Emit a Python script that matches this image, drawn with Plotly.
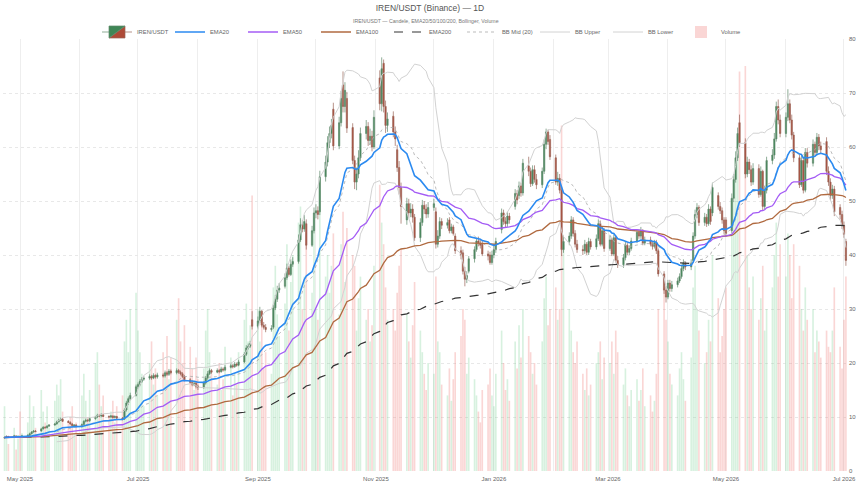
import pandas as pd
import plotly.graph_objects as go

# ---- Daily OHLCV (business days from 2025-04-23), one line per month ----
open_ = [
    6.1, 6.2, 6.4, 6.3, 6.5, 6.3,
    6.4, 6.3, 6.5, 6.6, 6.9, 7.2, 7.4, 7.4, 7.8, 8.1, 8.0, 8.3, 8.5, 8.7, 9.1, 9.4, 9.6, 9.2, 9.0, 8.7, 8.4, 8.5,
    8.2, 8.6, 9.2, 9.4, 9.3, 9.7, 10.0, 10.3, 10.2, 10.4, 10.1, 10.0, 10.2, 9.9, 10.1, 9.8, 9.6, 11.3, 12.6, 13.4, 14.0,
    15.6, 16.0, 16.6, 17.0, 17.2, 17.5, 17.2, 17.7, 17.4, 17.8, 17.6, 18.2, 17.9, 18.5, 18.2, 18.6, 18.3, 18.0, 17.5, 16.9, 16.4, 16.0, 16.3,
    15.7, 15.5, 16.3, 17.2, 18.0, 18.6, 18.3, 18.6, 18.4, 18.9, 18.7, 19.2, 19.5, 19.3, 19.8, 19.6, 20.2, 21.6, 22.8, 23.1, 28.0,
    26.8, 27.8, 29.6, 27.0, 26.6, 26.2, 26.6, 30.2, 31.8, 33.5, 34.2, 35.8, 37.6, 36.4, 38.3, 38.8, 42.8, 45.6, 44.8, 45.8, 41.8, 44.5,
    47.8, 48.2, 48.0, 54.5, 57.2, 60.8, 62.5, 67.0, 60.2, 64.5, 71.5, 67.5, 69.0, 63.6, 57.5, 53.5, 55.0, 58.0, 62.5, 63.8, 61.2, 62.0, 60.0,
    72.8, 68.0, 75.5, 67.5, 64.0, 65.7, 62.8, 59.5, 56.2, 52.5, 46.5, 49.5, 47.8, 48.5, 47.0, 43.2, 46.0, 49.2, 48.5, 47.6,
    48.8, 48.0, 42.0, 43.5, 46.2, 45.5, 46.5, 44.5, 45.2, 43.5, 40.8, 40.4, 37.0, 35.5, 37.0, 39.3, 41.0, 42.6, 42.2, 42.0, 40.2, 40.0, 38.6,
    40.0, 41.0, 44.7, 47.8, 46.2, 45.8, 47.2, 49.0, 51.4, 51.0, 52.8, 51.5, 56.5, 55.5, 53.2, 55.8, 54.0, 53.0, 55.5, 60.5, 62.8, 61.4,
    58.0, 53.5, 54.2, 52.0, 41.0, 42.5, 43.5, 46.5, 44.0, 42.0, 41.0, 40.8, 42.0, 40.5, 42.5, 41.5, 43.0, 45.8, 42.0, 44.5,
    41.2, 42.8, 40.2, 43.2, 39.0, 38.2, 39.5, 41.8, 40.5, 41.2, 42.6, 44.2, 43.5, 44.5, 42.2, 42.8, 42.0, 41.6, 42.3, 40.8, 36.5, 33.5,
    32.2, 34.8, 33.8, 34.5, 35.2, 36.0, 37.5, 38.5, 37.8, 39.0, 43.5, 47.5, 48.8, 46.0, 47.0, 45.8, 48.5, 47.8, 51.0, 49.0, 48.2, 46.5,
    46.5, 44.5, 50.5, 54.0, 58.0, 64.5, 60.8, 55.0, 57.2, 55.8, 53.5, 56.0, 51.2, 55.5, 49.0, 52.0, 57.5, 58.5, 61.5, 67.5, 65.0,
    62.5, 65.5, 68.0, 65.0, 62.2, 58.0, 53.0, 57.5, 52.0, 59.0, 57.0, 60.5, 59.0, 61.8, 60.2, 61.0, 55.5, 53.5, 51.0, 52.2, 48.8, 47.5, 45.5, 42.5,
]
high = [
    6.4, 6.6, 6.5, 6.7, 6.6, 6.6,
    6.5, 6.7, 6.8, 7.1, 7.4, 7.6, 7.6, 8.0, 8.3, 8.3, 8.5, 8.7, 8.9, 9.3, 9.7, 9.9, 9.8, 9.4, 9.2, 8.9, 8.7, 8.7,
    8.8, 9.4, 9.7, 9.6, 9.9, 10.2, 10.6, 10.5, 10.7, 10.5, 10.3, 10.4, 10.3, 10.3, 10.2, 10.0, 11.6, 13.0, 13.8, 14.5, 16.0,
    16.4, 17.0, 17.4, 17.6, 17.9, 17.8, 18.1, 17.9, 18.2, 18.1, 18.6, 18.5, 18.9, 18.8, 19.0, 18.9, 18.6, 18.3, 17.8, 17.2, 16.8, 16.7, 16.6,
    16.0, 16.6, 17.6, 18.5, 19.0, 18.9, 19.0, 18.9, 19.3, 19.2, 19.6, 19.9, 19.8, 20.2, 20.1, 20.6, 22.0, 23.3, 23.6, 24.1, 29.6,
    28.6, 30.4, 29.8, 27.6, 27.2, 27.0, 30.8, 32.6, 34.3, 34.8, 36.6, 38.4, 38.0, 39.2, 39.6, 43.8, 46.8, 46.4, 47.4, 46.6, 45.4, 48.8,
    49.4, 49.0, 55.6, 58.4, 62.0, 63.8, 65.2, 68.2, 65.6, 70.4, 74.0, 72.0, 70.2, 64.4, 58.4, 56.2, 59.4, 63.6, 65.0, 64.6, 63.4, 63.0, 66.8,
    74.2, 76.6, 76.2, 68.6, 66.4, 66.6, 63.8, 60.4, 57.4, 53.4, 50.6, 50.4, 49.6, 49.4, 47.6, 46.8, 50.2, 50.0, 49.4, 49.8,
    50.4, 48.8, 44.6, 47.0, 46.8, 46.8, 47.0, 45.8, 45.6, 44.0, 41.6, 41.0, 37.8, 37.0, 39.8, 41.6, 43.2, 43.4, 42.8, 42.6, 40.8, 40.6, 40.8,
    41.8, 43.2, 48.6, 48.4, 47.0, 48.0, 47.8, 52.2, 52.0, 53.6, 53.4, 57.8, 58.2, 56.2, 56.6, 56.6, 55.0, 56.2, 61.4, 63.4, 63.2, 62.2,
    58.6, 55.4, 55.0, 52.6, 43.6, 44.2, 47.2, 47.0, 44.6, 42.8, 41.8, 42.8, 42.4, 43.2, 43.0, 43.8, 46.6, 46.4, 45.2, 45.0,
    43.6, 43.2, 43.8, 43.6, 39.8, 40.2, 42.4, 42.2, 41.8, 43.2, 44.8, 44.8, 45.2, 44.8, 43.4, 43.4, 42.6, 42.8, 42.8, 41.2, 37.0, 34.2,
    35.4, 35.4, 35.2, 35.8, 36.6, 38.2, 39.2, 38.8, 39.2, 44.2, 48.4, 49.6, 49.2, 47.8, 47.6, 49.4, 49.0, 53.4, 51.6, 49.8, 48.8, 47.0,
    47.0, 51.4, 55.0, 59.2, 63.6, 66.0, 61.6, 58.2, 57.8, 56.6, 57.0, 56.8, 56.4, 55.8, 52.8, 58.2, 59.6, 62.6, 68.4, 68.8, 66.0,
    66.4, 70.7, 68.8, 66.0, 62.8, 58.6, 58.4, 58.0, 59.8, 59.8, 61.4, 61.0, 62.6, 62.4, 61.0, 61.8, 56.4, 54.2, 53.0, 52.8, 49.4, 48.2, 46.2, 43.0,
]
low = [
    6.0, 6.1, 6.2, 6.2, 6.2, 6.2,
    6.2, 6.2, 6.4, 6.5, 6.8, 7.1, 7.2, 7.3, 7.7, 7.9, 7.9, 8.2, 8.4, 8.6, 9.0, 9.3, 9.1, 8.9, 8.6, 8.3, 8.3, 8.1,
    8.1, 8.4, 9.0, 9.1, 9.1, 9.5, 9.8, 10.0, 10.0, 10.0, 9.8, 9.8, 9.7, 9.7, 9.6, 9.4, 9.5, 11.0, 12.2, 13.1, 13.8,
    15.2, 15.7, 16.3, 16.7, 16.9, 16.9, 17.0, 17.1, 17.1, 17.3, 17.3, 17.6, 17.6, 17.9, 17.9, 18.0, 17.7, 17.2, 16.6, 16.1, 15.7, 15.7, 15.3,
    15.0, 15.2, 16.0, 16.9, 17.8, 18.0, 18.1, 18.1, 18.2, 18.4, 18.5, 19.0, 19.0, 19.1, 19.3, 19.4, 20.0, 21.3, 22.5, 22.8, 26.2,
    26.4, 27.4, 26.6, 26.2, 25.7, 25.8, 26.3, 29.8, 31.3, 33.0, 33.8, 35.4, 36.0, 36.1, 37.8, 38.4, 42.4, 44.2, 44.3, 41.0, 41.5, 44.0,
    46.8, 46.6, 47.4, 53.6, 56.4, 59.8, 61.6, 59.4, 59.6, 63.8, 66.4, 66.4, 62.6, 56.8, 52.2, 52.0, 54.2, 57.4, 61.4, 60.2, 60.4, 59.2, 59.6,
    66.8, 66.6, 66.4, 62.6, 62.8, 61.8, 60.2, 55.4, 51.2, 45.8, 45.6, 46.8, 47.0, 46.0, 42.6, 42.4, 45.4, 47.6, 46.8, 46.9,
    48.2, 41.2, 41.4, 43.0, 44.8, 44.9, 44.0, 44.0, 43.6, 40.2, 39.2, 36.4, 34.2, 34.8, 36.6, 38.6, 40.6, 41.6, 41.2, 39.8, 39.0, 38.2, 38.2,
    39.4, 40.4, 44.0, 45.6, 45.0, 45.2, 45.8, 48.4, 49.4, 50.4, 50.8, 51.0, 54.6, 52.6, 52.8, 53.4, 52.2, 52.4, 55.0, 59.6, 60.4, 57.6,
    53.0, 52.8, 51.4, 39.8, 40.4, 41.8, 43.0, 43.4, 41.4, 40.4, 40.0, 40.2, 40.0, 40.0, 41.0, 41.0, 42.6, 41.6, 41.6, 40.6,
    40.8, 39.8, 39.8, 38.6, 37.6, 37.6, 39.0, 40.0, 40.0, 40.8, 42.2, 43.0, 43.0, 41.8, 41.8, 41.6, 41.0, 41.2, 40.2, 36.0, 32.8, 31.2,
    31.8, 33.2, 33.2, 34.0, 34.8, 35.6, 37.0, 37.2, 37.2, 38.6, 43.0, 46.8, 45.4, 45.4, 45.2, 45.4, 45.6, 47.2, 48.4, 47.6, 45.8, 43.8,
    43.4, 44.0, 49.8, 53.4, 57.4, 60.0, 54.2, 54.4, 55.0, 52.8, 53.0, 50.6, 50.8, 48.2, 48.4, 51.4, 56.8, 57.8, 61.0, 64.2, 61.8,
    61.8, 64.8, 64.4, 61.4, 57.2, 52.4, 52.6, 51.4, 51.6, 56.2, 56.4, 58.4, 58.4, 59.4, 58.8, 54.8, 52.8, 50.2, 50.4, 47.2, 46.6, 44.8, 43.2, 38.0,
]
close = [
    6.2, 6.4, 6.3, 6.5, 6.3, 6.4,
    6.3, 6.5, 6.6, 6.9, 7.2, 7.4, 7.3, 7.8, 8.1, 8.0, 8.3, 8.5, 8.7, 9.1, 9.4, 9.6, 9.2, 9.0, 8.7, 8.4, 8.5, 8.2,
    8.6, 9.2, 9.4, 9.3, 9.7, 10.0, 10.3, 10.2, 10.4, 10.1, 10.0, 10.2, 9.9, 10.1, 9.8, 9.6, 11.3, 12.6, 13.4, 14.0, 15.6,
    16.0, 16.6, 17.0, 17.2, 17.5, 17.2, 17.7, 17.4, 17.8, 17.6, 18.2, 17.9, 18.5, 18.2, 18.6, 18.3, 18.0, 17.5, 16.9, 16.4, 16.0, 16.3, 15.7,
    15.5, 16.3, 17.2, 18.0, 18.6, 18.3, 18.6, 18.4, 18.9, 18.7, 19.2, 19.5, 19.3, 19.8, 19.6, 20.2, 21.6, 22.8, 23.1, 23.6, 26.8,
    27.8, 29.6, 27.0, 26.6, 26.2, 26.4, 30.2, 31.8, 33.5, 33.9, 35.8, 37.6, 36.4, 38.3, 38.8, 42.8, 45.6, 44.8, 46.2, 41.8, 44.5, 47.8,
    48.2, 47.5, 54.5, 57.2, 60.8, 62.5, 64.0, 60.2, 64.5, 69.0, 67.5, 70.5, 63.5, 57.5, 53.5, 55.0, 58.0, 62.5, 63.8, 61.2, 62.0, 60.0, 65.5,
    68.0, 74.5, 67.5, 64.0, 65.2, 62.8, 61.5, 56.2, 52.5, 49.0, 49.5, 47.8, 48.5, 47.0, 43.2, 46.0, 49.2, 48.5, 47.6, 48.8,
    49.5, 42.0, 43.5, 46.2, 45.5, 46.0, 44.5, 45.2, 44.0, 40.8, 40.0, 37.0, 35.5, 36.2, 39.3, 41.0, 42.6, 42.2, 41.8, 40.2, 39.8, 38.6, 40.0,
    41.0, 42.5, 47.8, 46.2, 45.8, 47.2, 46.5, 51.4, 50.2, 52.8, 51.5, 57.0, 55.5, 53.2, 55.8, 54.0, 53.0, 55.5, 60.5, 62.8, 61.0, 58.2,
    53.5, 54.2, 52.0, 41.0, 42.5, 43.5, 46.5, 44.0, 42.0, 41.0, 40.8, 42.0, 40.5, 42.5, 41.5, 43.0, 45.8, 42.0, 44.5, 41.2,
    42.8, 40.2, 43.2, 39.0, 38.2, 39.5, 41.8, 40.5, 41.2, 42.6, 44.2, 43.5, 44.5, 42.2, 42.8, 42.0, 41.6, 42.3, 40.8, 36.5, 33.5, 32.2,
    34.8, 33.8, 34.5, 35.2, 36.0, 37.5, 38.5, 37.8, 38.5, 43.5, 47.5, 48.8, 46.0, 47.0, 45.8, 48.5, 46.2, 52.5, 49.0, 48.2, 46.5, 44.5,
    44.0, 50.5, 54.0, 58.0, 62.5, 60.8, 55.0, 57.2, 55.8, 53.5, 56.0, 51.2, 55.5, 49.0, 52.0, 57.5, 58.5, 61.5, 67.5, 65.0, 62.5,
    65.5, 68.0, 65.0, 62.2, 58.0, 53.0, 57.5, 52.0, 59.0, 57.0, 60.5, 59.0, 61.8, 60.2, 59.5, 55.5, 53.5, 51.0, 52.2, 48.0, 47.5, 45.5, 43.8, 39.0,
]
volume = [
    12, 6, 5, 8, 4, 6,
    11, 7, 9, 14, 10, 12, 8, 15, 11, 9, 12, 8, 13, 16, 14, 17, 11, 9, 10, 12, 7, 9,
    14, 18, 13, 10, 15, 20, 22, 16, 12, 14, 10, 11, 13, 9, 12, 14, 24, 28, 22, 30, 33,
    26, 22, 18, 12, 20, 24, 16, 19, 14, 22, 18, 25, 17, 21, 28, 32, 24, 20, 27, 23, 19, 15, 21,
    17, 19, 26, 30, 22, 18, 16, 20, 15, 17, 23, 21, 14, 18, 16, 22, 28, 31, 24, 27, 51,
    30, 24, 28, 19, 22, 18, 34, 38, 29, 25, 31, 42, 26, 35, 40, 46, 49, 30, 36, 44, 33, 47,
    30, 28, 52, 36, 40, 33, 38, 44, 29, 42, 48, 35, 45, 40, 38, 26, 32, 36, 28, 30, 24, 27, 38,
    53, 46, 42, 34, 28, 30, 26, 33, 38, 41, 29, 24, 21, 27, 35, 26, 22, 18, 15, 20,
    18, 36, 24, 22, 16, 14, 19, 13, 17, 22, 25, 30, 28, 18, 21, 17, 14, 11, 9, 15, 16, 19, 14,
    12, 18, 26, 20, 15, 17, 13, 24, 19, 27, 21, 30, 25, 22, 18, 20, 16, 24, 32, 36, 27, 30,
    34, 28, 30, 64, 42, 30, 26, 22, 20, 24, 18, 15, 19, 14, 16, 20, 22, 24, 17, 21,
    20, 24, 18, 26, 22, 16, 19, 14, 12, 15, 17, 13, 15, 19, 12, 14, 11, 13, 18, 30, 34, 28,
    24, 18, 16, 14, 19, 22, 17, 13, 21, 34, 38, 30, 26, 20, 22, 28, 24, 40, 32, 22, 25, 30,
    34, 44, 50, 58, 62, 74, 75, 40, 34, 30, 36, 28, 32, 38, 26, 30, 34, 40, 46, 36, 42,
    36, 44, 40, 32, 42, 38, 30, 26, 34, 28, 30, 22, 26, 24, 21, 26, 23, 22, 26, 34, 23, 19, 28, 36,
]

lens = {k: len(v) for k, v in dict(o=open_, h=high, l=low, c=close, v=volume).items()}
assert len(set(lens.values())) == 1, lens

dates = pd.bdate_range("2025-04-23", periods=len(close))
s = pd.Series(close, index=dates)
ema = {n: s.ewm(span=n, adjust=False).mean() for n in (20, 50, 100, 200)}
bb_mid = s.rolling(20).mean()
bb_sd = s.rolling(20).std(ddof=0)
bb_up = bb_mid + 2 * bb_sd
bb_lo = bb_mid - 2 * bb_sd

up_idx = [i for i in range(len(close)) if close[i] >= open_[i]]
dn_idx = [i for i in range(len(close)) if close[i] < open_[i]]

FONT = "Liberation Sans, Arial, sans-serif"
fig = go.Figure()

# Volume (behind, on hidden base axis)
fig.add_trace(go.Bar(x=[dates[i] for i in dn_idx], y=[volume[i] for i in dn_idx],
                     marker=dict(color="rgba(240,120,115,0.30)", line=dict(width=0)),
                     name="Volume", legendgroup="vol", legendrank=9, yaxis="y"))
fig.add_trace(go.Bar(x=[dates[i] for i in up_idx], y=[volume[i] for i in up_idx],
                     marker=dict(color="rgba(110,205,140,0.28)", line=dict(width=0)),
                     name="Volume", legendgroup="vol", showlegend=False, yaxis="y"))

fig.add_trace(go.Scatter(x=dates, y=bb_up, mode="lines", name="BB Upper", legendrank=7,
                         line=dict(color="#d2d2d2", width=1), yaxis="y2"))
fig.add_trace(go.Scatter(x=dates, y=bb_lo, mode="lines", name="BB Lower", legendrank=8,
                         line=dict(color="#d2d2d2", width=1), yaxis="y2"))
fig.add_trace(go.Scatter(x=dates, y=bb_mid, mode="lines", name="BB Mid (20)", legendrank=6,
                         line=dict(color="#aaaaaa", width=0.8, dash="dot"), yaxis="y2"))

fig.add_trace(go.Candlestick(x=dates, open=open_, high=high, low=low, close=close,
                             name="IREN/USDT", legendrank=1, yaxis="y2", whiskerwidth=0,
                             increasing=dict(line=dict(color="#5f8a6c", width=0.7), fillcolor="#3f8656"),
                             decreasing=dict(line=dict(color="#9a6458", width=0.7), fillcolor="#ae4a37")))

fig.add_trace(go.Scatter(x=dates, y=ema[200], mode="lines", name="EMA200", legendrank=5,
                         line=dict(color="#333333", width=1.2, dash="dash"), yaxis="y2"))
fig.add_trace(go.Scatter(x=dates, y=ema[100], mode="lines", name="EMA100", legendrank=4,
                         line=dict(color="#b06a40", width=1.3), yaxis="y2"))
fig.add_trace(go.Scatter(x=dates, y=ema[50], mode="lines", name="EMA50", legendrank=3,
                         line=dict(color="#a45cf5", width=1.3), yaxis="y2"))
fig.add_trace(go.Scatter(x=dates, y=ema[20], mode="lines", name="EMA20", legendrank=2,
                         line=dict(color="#2b8af0", width=1.6), yaxis="y2"))

H_PLOT = 484 - 39 - 13
fig.update_layout(
    width=860, height=484, autosize=False,
    margin=dict(l=3, r=12, t=39, b=13),
    paper_bgcolor="white", plot_bgcolor="white",
    font=dict(family=FONT, color="#666666", size=6),
    title=dict(text="IREN/USDT (Binance) — 1D", x=0.5, xref="container", xanchor="center",
               y=1 - 8 / 484, yref="container", yanchor="middle",
               font=dict(size=8.5, color="#555555", family=FONT)),
    annotations=[dict(text="IREN/USDT — Candele, EMA20/50/100/200, Bollinger, Volume",
                      x=0.5, xref="paper", xanchor="center",
                      y=1 + (39 - 21) / H_PLOT, yref="paper", yanchor="middle",
                      showarrow=False, font=dict(size=5.2, color="#777777", family=FONT))],
    legend=dict(orientation="h", x=0.5, xanchor="center", y=1 + (39 - 32) / H_PLOT, yanchor="middle",
                font=dict(size=5.8, color="#666666", family=FONT), itemwidth=30,
                entrywidth=28, entrywidthmode="pixels",
                bgcolor="rgba(0,0,0,0)", traceorder="normal"),
    barmode="overlay", bargap=0.15, boxgap=0.05,
    showlegend=True,
    xaxis=dict(type="date", range=["2025-04-22 05:00", "2026-07-03 02:00"],
               rangeslider=dict(visible=False),
               tick0="2025-05-01", dtick="M2", tickformat="%b %Y",
               showgrid=True, gridcolor="#eeeeee", gridwidth=1,
               minor=dict(dtick="M1", showgrid=True, gridcolor="#eeeeee"),
               tickfont=dict(size=6, color="#666666"), ticks="", ticklabelstandoff=3,
               zeroline=False, showline=False),
    yaxis=dict(range=[0, 80], visible=False, fixedrange=True),
    yaxis2=dict(range=[0, 80], overlaying="y", side="right", anchor="x", dtick=10,
                showgrid=True, gridcolor="#e8e8e8", griddash="dot", zeroline=False,
                tickfont=dict(size=6, color="#666666"), ticks="", showline=False),
)

fig.write_html("out.html")
